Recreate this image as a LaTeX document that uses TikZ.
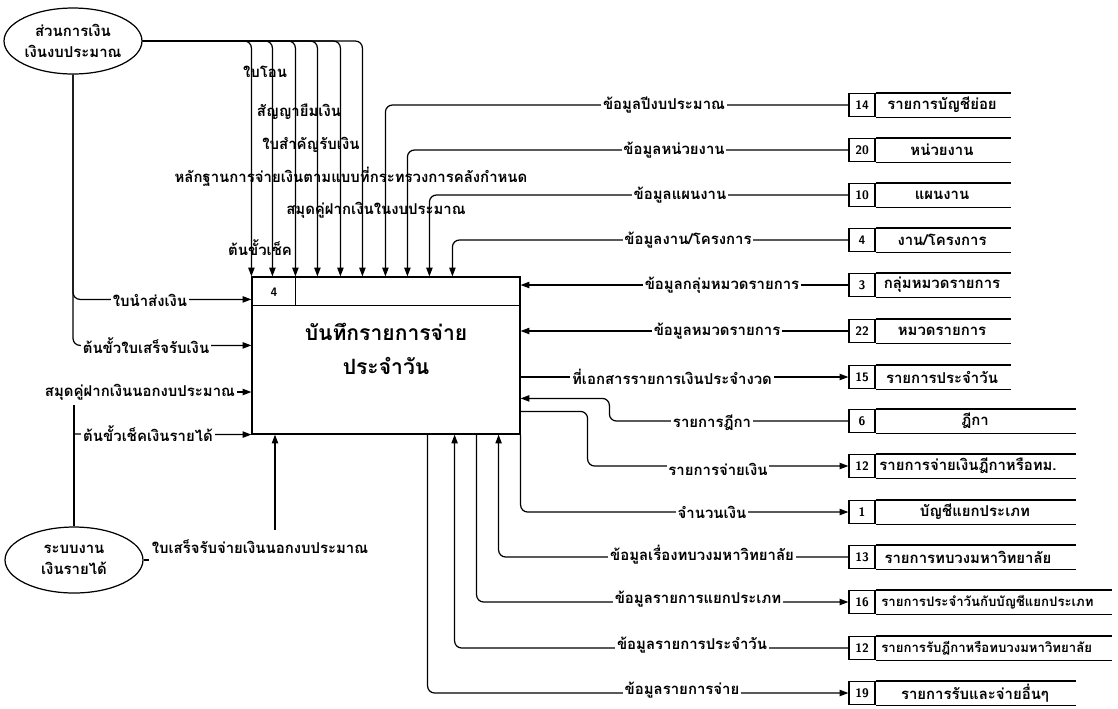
\documentclass[tikz,border=0pt]{standalone}
\usepackage{fontspec}
\newfontfamily\thaifont[Script=Thai]{Loma}
\usetikzlibrary{calc,arrows.meta,shapes.geometric}

\tikzset{
  flow/.style={-{Triangle[length=5pt,width=3.6pt]}},
  lbl/.style={fill=white, inner sep=1pt, font=\thaifont\bfseries\fontsize{8.5}{10}\selectfont},
  toplbl/.style={inner sep=1pt, font=\thaifont\bfseries\fontsize{8.5}{10}\selectfont},
  numbox/.style={draw, minimum width=0.52cm, minimum height=0.46cm, inner sep=0pt, font=\sffamily\bfseries\fontsize{7}{8}\selectfont},
  storename/.style={inner sep=1pt, font=\thaifont\bfseries\fontsize{8.5}{10}\selectfont},
  longname/.style={inner sep=1pt, anchor=west, font=\thaifont\bfseries\fontsize{7.5}{9}\selectfont},
  extent/.style={ellipse, draw, minimum width=2.76cm, minimum height=1.32cm, inner sep=0pt, align=center, font=\thaifont\bfseries\fontsize{8.5}{12}\selectfont}
}

\begin{document}
\begin{tikzpicture}[x=0.02cm, y=-0.02cm, line width=0.7pt]
\useasboundingbox (0,0) rectangle (1118,708);

\node[extent] (fin) at (73,41) {ส่วนการเงิน\\เงินงบประมาณ};
\node[extent] (rev) at (74,560) {ระบบงาน\\เงินรายได้};

\node[draw, minimum width=5.36cm, minimum height=3.14cm] (proc) at (386,355.5) {};
\draw ($(proc.north west)+(0,29)$) -- ($(proc.north east)+(0,29)$);
\draw ($(proc.north west)+(44,0)$) -- ($(proc.north west)+(44,29)$);
\node[font=\sffamily\bfseries\fontsize{7}{8}\selectfont] (pnum) at (274,292) {4};
\node[align=center, font=\thaifont\bfseries\fontsize{12}{19}\selectfont] (title) at (386,349) {บันทึกรายการจ่าย\\ประจำวัน};

\node[numbox] (n14) at (862,105) {14};
\node[numbox] (n20) at (862,150) {20};
\node[numbox] (n10) at (862,195) {10};
\node[numbox] (n4) at (862,240) {4};
\node[numbox] (n3) at (862,285) {3};
\node[numbox] (n22) at (862,331) {22};
\node[numbox] (n15) at (862,377) {15};
\node[numbox] (n6) at (862,421) {6};
\node[numbox] (n12a) at (862,466) {12};
\node[numbox] (n1) at (862,512) {1};
\node[numbox] (n13) at (862,557) {13};
\node[numbox] (n16) at (862,602) {16};
\node[numbox] (n12b) at (862,648) {12};
\node[numbox] (n19) at (862,693) {19};
\foreach \s in {n14,n20,n10,n4,n3,n22,n15}
  \draw (\s.north east) -- ++(135,0) (\s.south east) -- ++(135,0);
\foreach \s in {n6,n12a,n1,n13,n19}
  \draw (\s.north east) -- ++(200,0) (\s.south east) -- ++(200,0);
\foreach \s in {n16,n12b}
  \draw (\s.north east) -- ++(236,0) (\s.south east) -- ++(236,0);
\node[storename] (t14) at (942,105) {รายการบัญชีย่อย};
\node[storename] (t20) at (942,150) {หน่วยงาน};
\node[storename] (t10) at (942,195) {แผนงาน};
\node[storename] (t4) at (942,240) {งาน/โครงการ};
\node[storename] (t3) at (942,285) {กลุ่มหมวดรายการ};
\node[storename] (t22) at (942,331) {หมวดรายการ};
\node[storename] (t15) at (942,377) {รายการประจำวัน};
\node[storename] (t6) at (975,421) {ฎีกา};
\node[storename] (t12a) at (968,466) {รายการจ่ายเงินฎีกาหรือทม.};
\node[storename] (t1) at (975,512) {บัญชีแยกประเภท};
\node[storename] (t13) at (968,557) {รายการทบวงมหาวิทยาลัย};
\node[longname] (t16) at (879,602) {รายการประจำวันกับบัญชีแยกประเภท};
\node[longname] (t12b) at (879,648) {รายการรับฎีกาหรือทบวงมหาวิทยาลัย};
\node[storename] (t19) at (975,693) {รายการรับและจ่ายอื่นๆ};

\foreach \dx in {0,21,44,66,89,111}
  \draw[flow, rounded corners=4pt] (fin.east) -| ($(proc.north west)+(\dx,0)$);
\node[toplbl] (l1) at (265,72) {ใบโอน};
\node[toplbl] (l2) at (299,112) {สัญญายืมเงิน};
\node[toplbl] (l3) at (311,145) {ใบสำคัญรับเงิน};
\node[toplbl] (l4) at (351,177) {หลักฐานการจ่ายเงินตามแบบที่กระทรวงการคลังกำหนด};
\node[toplbl] (l5) at (376,210) {สมุดคู่ฝากเงินในงบประมาณ};
\node[toplbl] (l6) at (260,248) {ต้นขั้วเช็ค};

\draw[flow, rounded corners=4pt] (n14.west) -| ($(proc.north west)+(134,0)$);
\draw[flow, rounded corners=4pt] (n20.west) -| ($(proc.north west)+(156,0)$);
\draw[flow, rounded corners=4pt] (n10.west) -| ($(proc.north west)+(178,0)$);
\draw[flow, rounded corners=4pt] (n4.west) -| ($(proc.north west)+(201,0)$);
\draw[flow] (n3.west) -- (n3.west -| proc.east);
\draw[flow] (n22.west) -- (n22.west -| proc.east);
\draw[flow] (n15.west -| proc.east) -- (n15.west);
\draw[flow, rounded corners=4pt] (n6.west) -- ++(-239,0) |- ($(proc.north east)+(0,122)$);
\draw[flow, rounded corners=4pt] ($(proc.north east)+(0,135)$) -- ++(67,0) |- (n12a.west);
\draw[flow, rounded corners=4pt] (proc.south east) |- (n1.west);
\draw[flow, rounded corners=4pt] (n13.west) -| ($(proc.south east)+(-22,0)$);
\draw[flow, rounded corners=4pt] ($(proc.south east)+(-44,0)$) |- (n16.west);
\draw[flow, rounded corners=4pt] (n12b.west) -| ($(proc.south east)+(-66,0)$);
\draw[flow, rounded corners=4pt] ($(proc.south east)+(-93,0)$) |- (n19.west);
\node[lbl] (r1) at (664,105) {ข้อมูลปีงบประมาณ};
\node[lbl] (r2) at (674,150) {ข้อมูลหน่วยงาน};
\node[lbl] (r3) at (680,195) {ข้อมูลแผนงาน};
\node[lbl] (r4) at (688,240) {ข้อมูลงาน/โครงการ};
\node[lbl] (r5) at (722,285) {ข้อมูลกลุ่มหมวดรายการ};
\node[lbl] (r6) at (717,331) {ข้อมูลหมวดรายการ};
\node[lbl] (r7) at (672,377) {ที่เอกสารรายการเงินประจำงวด};
\node[lbl] (r8) at (712,423) {รายการฎีกา};
\node[lbl] (r9) at (718,469) {รายการจ่ายเงิน};
\node[lbl] (r10) at (712,512) {จำนวนเงิน};
\node[lbl] (r11) at (702,555) {ข้อมูลเรื่องทบวงมหาวิทยาลัย};
\node[lbl] (r12) at (698,599) {ข้อมูลรายการแยกประเภท};
\node[lbl] (r13) at (692,645) {ข้อมูลรายการประจำวัน};
\node[lbl] (r14) at (682,690) {ข้อมูลรายการจ่าย};

\draw[flow, rounded corners=4pt] (fin.south) |- ($(proc.north west)+(0,23)$);
\draw[flow, rounded corners=4pt] (fin.south) |- ($(proc.north west)+(0,69)$);
\node[lbl] (ll1) at (150,300) {ใบนำส่งเงิน};
\node[lbl] (ll2) at (146,346) {ต้นขั้วใบเสร็จรับเงิน};
\node[toplbl] (ll3) at (140,392) {สมุดคู่ฝากเงินนอกงบประมาณ};
\draw[flow] (ll3.east) -- (ll3.east -| proc.west);
\draw (rev.north) -- (74,405);
\draw[flow] (74,434) -- (proc.south west);
\node[lbl] (ll4) at (148,434) {ต้นขั้วเช็คเงินรายได้};

\node[toplbl] (rcpt) at (260,547) {ใบเสร็จรับจ่ายเงินนอกงบประมาณ};
\draw (rev.east) -- (rcpt.west |- rev.east);
\coordinate (rcptup) at ($(rcpt.north)+(15,-8)$);
\draw[flow] (rcptup) -- (rcptup |- proc.south);
\end{tikzpicture}
\end{document}
